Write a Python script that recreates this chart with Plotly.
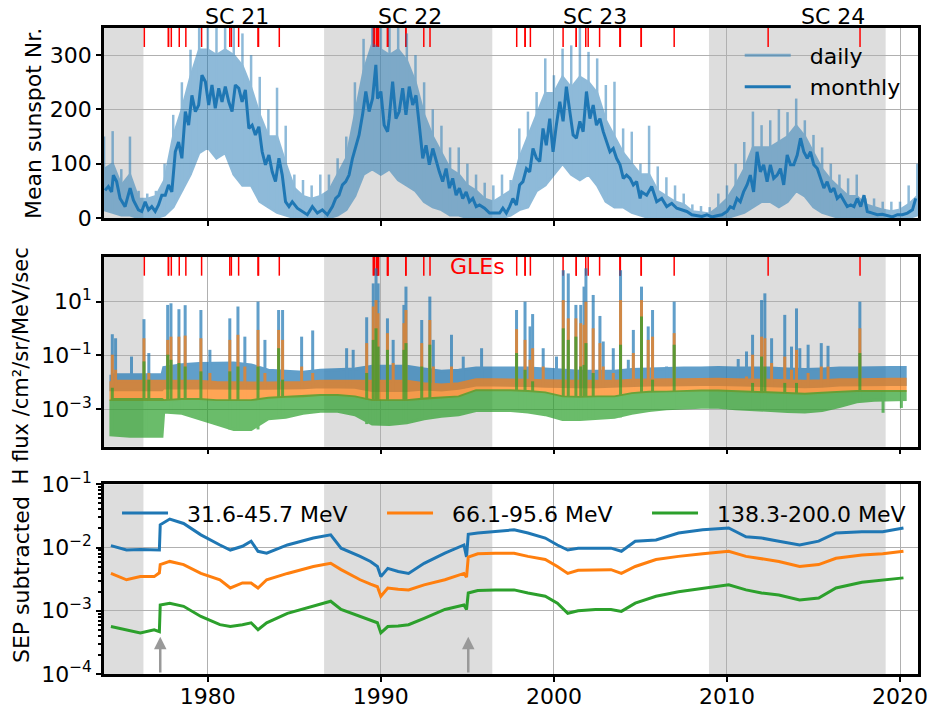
import plotly.graph_objects as go

# ---------------- data ----------------
# Sunspot panel: daily values summarised as half-year samples
band_years = [1974.0 + 0.5 * i for i in range(95)]
# highest daily values (spikes)
daily_hi = [150, 160, 90, 150, 50, 45, 50, 100, 190, 250,
            310, 380, 380, 380, 380, 380, 340, 300, 260, 200,
            240, 170, 80, 70, 60, 80, 80, 110, 150, 250,
            330, 380, 380, 380, 380, 340, 300, 250, 200, 170,
            130, 130, 100, 80, 65, 60, 80, 70, 165, 196,
            232, 294, 263, 312, 318, 380, 306, 294, 245, 251,
            165, 159, 100, 170, 95, 75, 60, 45, 25, 22,
            20, 45, 60, 100, 140, 196, 171, 180, 200, 195,
            220, 180, 153, 130, 100, 80, 73, 80, 36, 36,
            30, 30, 30, 60, 100]
# upper edge of the dense part of the daily band
daily_typ = [90, 100, 60, 80, 35, 35, 40, 70, 150, 200,
             260, 310, 310, 300, 310, 300, 280, 240, 190, 150,
             150, 100, 55, 40, 35, 40, 50, 80, 110, 190,
             270, 320, 310, 300, 310, 290, 250, 190, 150, 120,
             90, 80, 60, 50, 35, 30, 40, 50, 110, 150,
             190, 230, 230, 260, 240, 260, 250, 230, 180, 150,
             120, 100, 80, 80, 50, 40, 30, 25, 12, 10,
             8, 20, 35, 60, 90, 130, 130, 130, 140, 150,
             170, 150, 120, 90, 70, 55, 40, 40, 25, 20,
             15, 12, 15, 25, 40]
# lowest daily values
daily_lo = [15, 10, 5, 5, 0, 0, 0, 5, 20, 50,
            80, 120, 130, 110, 120, 80, 60, 60, 30, 20,
            10, 5, 0, 0, 0, 0, 0, 5, 15, 40,
            80, 90, 80, 90, 70, 60, 50, 30, 20, 15,
            5, 5, 0, 0, 0, 0, 0, 5, 15, 20,
            50, 60, 80, 100, 80, 70, 80, 60, 30, 20,
            20, 10, 5, 0, 0, 0, 0, 0, 0, 0,
            0, 0, 0, 5, 10, 20, 30, 30, 20, 30,
            50, 40, 20, 10, 5, 0, 0, 0, 0, 0,
            0, 0, 0, 0, 5]

monthly_years = [1974.06, 1974.25, 1974.44, 1974.54, 1974.73, 1974.93, 1975.22, 1975.51, 1975.70, 1975.99,
                 1976.18, 1976.38, 1976.57, 1976.76, 1976.96, 1977.15, 1977.34, 1977.54, 1977.73, 1977.92,
                 1978.12, 1978.31, 1978.50, 1978.70, 1978.89, 1979.08, 1979.28, 1979.47, 1979.66, 1979.86,
                 1980.05, 1980.24, 1980.43, 1980.63, 1980.82, 1981.01, 1981.21, 1981.40, 1981.59, 1981.79,
                 1981.98, 1982.17, 1982.37, 1982.56, 1982.75, 1982.95, 1983.14, 1983.33, 1983.53, 1983.72,
                 1983.91, 1984.11, 1984.30, 1984.49, 1984.69, 1984.88, 1985.17, 1985.46, 1985.75, 1986.04,
                 1986.33, 1986.62, 1986.91, 1987.20, 1987.39, 1987.58, 1987.78, 1987.97, 1988.16, 1988.36,
                 1988.55, 1988.74, 1988.94, 1989.13, 1989.32, 1989.52, 1989.71, 1989.81, 1990.00, 1990.19,
                 1990.39, 1990.48, 1990.68, 1990.87, 1991.06, 1991.26, 1991.45, 1991.64, 1991.84, 1992.03,
                 1992.22, 1992.42, 1992.61, 1992.80, 1993.00, 1993.19, 1993.38, 1993.57, 1993.77, 1993.96,
                 1994.15, 1994.35, 1994.54, 1994.73, 1994.93, 1995.12, 1995.31, 1995.51, 1995.70, 1995.99,
                 1996.28, 1996.57, 1996.86, 1997.05, 1997.25, 1997.44, 1997.63, 1997.83, 1998.02, 1998.21,
                 1998.41, 1998.60, 1998.79, 1998.99, 1999.18, 1999.37, 1999.56, 1999.76, 1999.95, 2000.14,
                 2000.34, 2000.53, 2000.72, 2000.92, 2001.11, 2001.30, 2001.50, 2001.69, 2001.88, 2002.08,
                 2002.27, 2002.46, 2002.66, 2002.85, 2003.04, 2003.24, 2003.43, 2003.62, 2003.82, 2004.01,
                 2004.20, 2004.40, 2004.59, 2004.78, 2004.98, 2005.07, 2005.36, 2005.65, 2005.94, 2006.23,
                 2006.52, 2006.81, 2007.10, 2007.39, 2007.68, 2007.97, 2008.26, 2008.55, 2008.84, 2009.13,
                 2009.42, 2009.71, 2010.00, 2010.19, 2010.38, 2010.58, 2010.77, 2010.96, 2011.16, 2011.35,
                 2011.54, 2011.74, 2011.93, 2012.12, 2012.32, 2012.51, 2012.70, 2012.90, 2013.09, 2013.28,
                 2013.48, 2013.67, 2013.86, 2014.06, 2014.25, 2014.44, 2014.64, 2014.83, 2015.02, 2015.22,
                 2015.41, 2015.60, 2015.79, 2015.99, 2016.18, 2016.37, 2016.57, 2016.76, 2016.95, 2017.15,
                 2017.34, 2017.53, 2017.73, 2017.92, 2018.11, 2018.40, 2018.69, 2018.98, 2019.27, 2019.56,
                 2019.85, 2020.14, 2020.43, 2020.72, 2020.91]
monthly_ssn = [51, 58, 48, 79, 67, 36, 21, 55, 33, 15,
               12, 30, 15, 21, 12, 24, 42, 42, 61, 48,
               122, 140, 110, 196, 171, 226, 196, 208, 263, 251,
               208, 245, 202, 239, 214, 242, 214, 196, 245, 239,
               214, 236, 165, 171, 153, 168, 122, 98, 116, 85,
               67, 110, 79, 30, 21, 30, 18, 12, 6, 21,
               9, 15, 6, 21, 36, 42, 61, 67, 79, 110,
               134, 153, 190, 233, 196, 220, 282, 220, 233, 171,
               159, 183, 251, 183, 196, 239, 190, 242, 208, 226,
               171, 110, 134, 98, 128, 104, 85, 67, 91, 55,
               73, 42, 55, 36, 48, 30, 36, 21, 24, 18,
               9, 9, 9, 18, 9, 21, 36, 24, 61, 67,
               91, 85, 128, 110, 104, 165, 134, 183, 122, 171,
               214, 178, 242, 196, 153, 147, 178, 159, 233, 183,
               208, 171, 183, 159, 140, 122, 128, 110, 98, 73,
               79, 73, 61, 67, 36, 48, 42, 58, 30, 36,
               21, 27, 18, 15, 12, 6, 4, 3, 6, 2,
               4, 6, 12, 21, 18, 36, 30, 48, 61, 79,
               48, 122, 85, 98, 67, 98, 73, 79, 91, 61,
               116, 98, 98, 116, 147, 122, 110, 122, 98, 91,
               73, 55, 67, 48, 55, 36, 42, 30, 21, 24,
               21, 36, 21, 42, 12, 9, 6, 7, 4, 2,
               6, 6, 9, 15, 36]

# Ground level enhancements (dates as decimal years)
gle_years = [1976.33, 1977.72, 1977.73, 1977.89, 1978.35, 1978.73, 1979.64, 1981.27, 1981.36, 1981.78,
             1982.90, 1982.93, 1984.13, 1989.56, 1989.62, 1989.74, 1989.80, 1989.81, 1989.81, 1989.87,
             1990.38, 1990.39, 1990.40, 1990.40, 1991.44, 1991.45, 1992.48, 1992.84, 1997.85, 1998.33,
             1998.34, 1998.64, 2000.53, 2001.29, 2001.29, 2001.84, 2001.98, 2002.64, 2003.82, 2003.83,
             2003.84, 2005.04, 2005.05, 2006.95, 2012.38, 2017.69]

shade_start = [1974.0, 1986.72, 2008.96]
shade_end = [1976.28, 1996.44, 2019.17]
cycle_names = ["SC 21", "SC 22", "SC 23", "SC 24"]
cycle_label_years = [1981.7, 1991.7, 2002.4, 2016.1]

# H flux panel (log10 values): quiet-time bands per channel
flux_years = [1974.4, 1975.5, 1976.5, 1977.35, 1977.45, 1978.5, 1979.5, 1980.5, 1981.5, 1982.5,
              1983.5, 1984.5, 1985.5, 1986.5, 1987.5, 1988.5, 1989.5, 1990.5, 1991.5, 1992.5,
              1993.5, 1994.5, 1995.5, 1996.5, 1997.5, 1998.5, 1999.5, 2000.5, 2001.5, 2002.5,
              2003.5, 2004.5, 2005.5, 2006.5, 2007.5, 2008.5, 2009.5, 2010.5, 2011.5, 2012.5,
              2013.5, 2014.5, 2015.5, 2016.5, 2017.5, 2018.5, 2019.5, 2020.3]
blue_hi_log = [-1.72, -1.72, -1.72, -1.72, -1.45, -1.34, -1.30, -1.28, -1.28, -1.35,
               -1.55, -1.59, -1.62, -1.55, -1.53, -1.50, -1.40, -1.40, -1.40, -1.50,
               -1.59, -1.55, -1.47, -1.47, -1.47, -1.47, -1.50, -1.55, -1.59, -1.59,
               -1.59, -1.52, -1.50, -1.47, -1.47, -1.47, -1.45, -1.47, -1.47, -1.47,
               -1.50, -1.52, -1.50, -1.47, -1.47, -1.45, -1.45, -1.45]
blue_lo_log = [-2.27, -2.27, -2.27, -2.27, -2.20, -2.20, -2.20, -2.22, -2.22, -2.22,
               -2.22, -2.22, -2.20, -2.16, -2.16, -2.18, -2.30, -2.30, -2.30, -2.25,
               -2.28, -2.22, -2.10, -2.10, -2.10, -2.12, -2.14, -2.16, -2.16, -2.16,
               -2.16, -2.12, -2.10, -2.10, -2.10, -2.08, -2.08, -2.10, -2.10, -2.12,
               -2.14, -2.16, -2.14, -2.10, -2.10, -2.08, -2.08, -2.08]
orange_hi_log = [-1.96, -1.96, -1.96, -1.96, -1.96, -1.96, -1.96, -2.00, -2.02, -2.02,
                 -2.02, -2.02, -2.00, -1.96, -1.96, -1.96, -1.96, -1.96, -1.96, -2.05,
                 -2.10, -2.05, -1.90, -1.90, -1.90, -1.92, -1.94, -1.96, -1.96, -1.96,
                 -1.96, -1.92, -1.90, -1.90, -1.90, -1.88, -1.88, -1.90, -1.90, -1.92,
                 -1.94, -1.96, -1.94, -1.90, -1.90, -1.88, -1.88, -1.88]
orange_lo_log = [-2.64, -2.64, -2.64, -2.64, -2.64, -2.60, -2.60, -2.64, -2.64, -2.64,
                 -2.55, -2.52, -2.50, -2.45, -2.45, -2.50, -2.64, -2.64, -2.64, -2.58,
                 -2.55, -2.50, -2.27, -2.27, -2.27, -2.30, -2.35, -2.50, -2.52, -2.50,
                 -2.50, -2.38, -2.33, -2.33, -2.30, -2.28, -2.28, -2.30, -2.33, -2.35,
                 -2.38, -2.40, -2.36, -2.33, -2.30, -2.30, -2.30, -2.30]
green_hi_log = [-2.64, -2.64, -2.64, -2.64, -2.68, -2.64, -2.64, -2.68, -2.68, -2.68,
                -2.59, -2.56, -2.54, -2.49, -2.49, -2.54, -2.68, -2.68, -2.68, -2.62,
                -2.59, -2.54, -2.31, -2.31, -2.31, -2.34, -2.39, -2.54, -2.56, -2.54,
                -2.54, -2.42, -2.37, -2.37, -2.34, -2.32, -2.32, -2.34, -2.37, -2.39,
                -2.42, -2.44, -2.40, -2.37, -2.34, -2.34, -2.34, -2.34]
green_lo_log = [-3.95, -4.00, -4.00, -4.00, -3.10, -3.15, -3.35, -3.55, -3.75, -3.75,
                -3.35, -3.30, -3.15, -3.07, -3.07, -3.20, -3.55, -3.57, -3.50, -3.35,
                -3.26, -3.20, -3.05, -3.05, -3.05, -3.10, -3.20, -3.38, -3.38, -3.35,
                -3.30, -3.15, -3.05, -2.98, -2.95, -2.92, -2.92, -2.98, -3.02, -3.05,
                -3.08, -3.10, -3.05, -2.90, -2.72, -2.66, -2.64, -2.64]

# SEP event peaks (log10 flux), None = no visible peak in that channel
spike_years = [1974.48, 1974.67, 1975.59, 1976.31, 1976.59, 1977.68, 1977.87, 1978.33, 1978.69, 1979.60,
               1980.12, 1981.27, 1981.74, 1982.14, 1982.90, 1983.30, 1984.09, 1984.32, 1985.42, 1986.06,
               1988.02, 1988.40, 1989.18, 1989.56, 1989.72, 1989.84, 1990.38, 1990.71, 1991.33, 1991.45,
               1992.36, 1992.83, 1993.03, 1994.08, 1994.76, 1995.82, 1997.84, 1998.33, 1998.62, 1998.77,
               1999.38, 2000.15, 2000.54, 2000.83, 2001.27, 2001.55, 2001.74, 2001.85, 2002.27, 2002.66,
               2002.85, 2003.43, 2003.85, 2004.30, 2004.59, 2005.06, 2005.45, 2005.70, 2006.51, 2006.95,
               2010.65, 2011.13, 2011.48, 2012.00, 2012.19, 2012.58, 2013.34, 2013.73, 2014.02, 2014.21,
               2014.69, 2015.45, 2015.84, 2017.68, 2019.02, 2020.08]
spike_blue_log = [-0.21, -0.36, -1.04, 0.35, -0.91, 0.88, 0.94, 0.72, 0.87, 0.69,
                  -0.79, 0.38, 0.82, -0.30, 1.00, -0.42, 0.69, 0.69, -0.30, -0.07,
                  -0.73, -0.79, 0.42, 1.68, 2.24, 1.68, 0.38, -0.42, 0.88, 1.56,
                  0.32, 1.19, -0.42, -0.23, -1.04, -0.73, 0.69, 1.00, 0.08, 0.54,
                  -0.73, -1.04, 2.17, 2.05, 0.88, 0.88, 1.56, 2.24, 1.25, 0.47,
                  -0.48, -0.73, 2.17, -1.16, -0.05, 1.56, 0.08, 0.69, -1.41, 1.00,
                  -1.13, -0.85, -0.23, 1.06, 1.31, -0.36, 0.51, -0.67, 0.75, -0.73,
                  -0.60, -0.54, -0.64, 1.00, None, None]
spike_orange_log = [-0.97, -1.53, None, -0.36, -1.65, -0.42, -0.30, -0.30, -0.26, -0.36,
                    -1.65, -0.42, -0.23, -1.41, -0.05, -1.65, -0.05, -0.42, -1.41, -1.65,
                    None, None, -0.54, 0.82, 1.06, 0.57, -0.17, -1.28, 0.20, 0.69,
                    -0.54, 0.32, -1.41, -1.41, None, None, -0.02, -0.42, -1.16, -0.73,
                    -1.41, None, 1.06, 0.38, 0.38, 0.20, 0.14, 1.00, 0.01, -0.54,
                    -1.41, -1.65, 1.06, None, -0.91, 1.06, -0.42, -0.30, None, -0.17,
                    None, -1.78, -0.97, -0.30, -0.36, -1.28, -1.04, -1.53, -0.79, None,
                    -1.65, -1.41, -1.41, 0.01, None, None]
spike_green_log = [-2.20, None, None, -1.22, -1.90, -0.97, -1.16, -1.28, -1.41, -1.59,
                   None, -1.59, -1.41, None, -1.41, None, -0.73, -1.90, None, None,
                   None, None, -1.65, -0.42, 0.01, -0.67, -0.79, None, -0.79, -0.54,
                   -1.41, -0.60, None, None, None, None, -0.91, -1.53, None, -1.96,
                   None, None, 0.01, -0.42, -0.30, -1.41, -1.35, -0.54, -1.65, None,
                   None, None, -0.60, None, None, 0.45, None, -1.90, None, -0.60,
                   None, None, -2.02, -1.04, -1.41, None, -2.02, None, -2.02, None,
                   None, None, None, -0.91, -3.13, -2.95]

# SEP-subtracted panel (log10 flux)
sep_years = [1974.4, 1975.3, 1976.1, 1976.9, 1977.2, 1977.25, 1977.8, 1978.6, 1979.6, 1980.7,
             1981.3, 1982.0, 1982.5, 1982.9, 1983.4, 1984.6, 1986.1, 1987.1, 1987.7, 1988.8,
             1989.4, 1989.8, 1990.0, 1990.4, 1991.0, 1991.6, 1992.5, 1993.7, 1994.8, 1994.95,
             1995.05, 1995.6, 1996.6, 1997.7, 1998.5, 1999.5, 2000.2, 2000.8, 2001.4, 2002.4,
             2003.3, 2003.9, 2004.7, 2005.9, 2007.2, 2008.6, 2010.1, 2011.1, 2012.0, 2013.0,
             2014.2, 2015.3, 2016.3, 2017.8, 2019.0, 2020.2]
sep_blue_log = [-1.97, -2.04, -2.03, -2.04, -2.04, -1.64, -1.55, -1.62, -1.80, -1.96,
                -2.04, -1.98, -1.90, -2.06, -2.09, -1.96, -1.85, -1.80, -2.01, -2.14,
                -2.22, -2.30, -2.46, -2.33, -2.38, -2.41, -2.25, -2.09, -1.96, -2.15,
                -1.79, -1.77, -1.75, -1.72, -1.77, -1.85, -1.96, -2.04, -2.01, -2.01,
                -2.01, -2.06, -1.90, -1.88, -1.77, -1.72, -1.69, -1.83, -1.85, -1.90,
                -1.96, -1.90, -1.77, -1.75, -1.75, -1.69]
sep_orange_log = [-2.41, -2.51, -2.46, -2.46, -2.40, -2.27, -2.22, -2.27, -2.41, -2.51,
                  -2.64, -2.56, -2.56, -2.64, -2.51, -2.41, -2.30, -2.25, -2.35, -2.51,
                  -2.58, -2.62, -2.77, -2.64, -2.66, -2.67, -2.59, -2.51, -2.41, -2.47,
                  -2.15, -2.10, -2.09, -2.09, -2.14, -2.19, -2.30, -2.41, -2.36, -2.35,
                  -2.35, -2.41, -2.30, -2.19, -2.14, -2.10, -2.06, -2.14, -2.18, -2.22,
                  -2.30, -2.27, -2.17, -2.12, -2.10, -2.06]
sep_green_log = [-3.25, -3.30, -3.35, -3.30, -3.33, -2.91, -2.88, -2.93, -3.09, -3.22,
                 -3.25, -3.22, -3.19, -3.30, -3.19, -3.04, -2.93, -2.85, -2.98, -3.09,
                 -3.15, -3.19, -3.35, -3.25, -3.24, -3.22, -3.12, -2.98, -2.91, -2.98,
                 -2.72, -2.68, -2.67, -2.67, -2.72, -2.77, -2.88, -3.04, -3.00, -2.98,
                 -2.98, -3.01, -2.88, -2.77, -2.70, -2.65, -2.59, -2.67, -2.72, -2.75,
                 -2.83, -2.80, -2.64, -2.55, -2.52, -2.48]
channel_names = ["31.6-45.7 MeV", "66.1-95.6 MeV", "138.3-200.0 MeV"]
arrow_years = [1977.25, 1995.05]

# ---------------- figure ----------------
C0, C1, C2 = "#1f77b4", "#ff7f0e", "#2ca02c"
FONT = "DejaVu Sans"
FS = 22
GAP = "\u00a0\u00a0"

fig = go.Figure()

# daily sunspot: dense band + spikes, one trace so the opacity does not stack
dx = band_years + band_years[::-1] + [band_years[0]]
dy = daily_typ + daily_lo[::-1] + [daily_typ[0]]
for t, lo, hi in zip(band_years, daily_lo, daily_hi):
    dx += [None, t, t]
    dy += [None, lo, hi]
fig.add_trace(go.Scatter(
    x=dx, y=dy, mode="lines", fill="toself", fillcolor=C0,
    line=dict(color=C0, width=2.5), opacity=0.5, showlegend=False,
    hoverinfo="skip", xaxis="x", yaxis="y"))
fig.add_trace(go.Scatter(x=[None], y=[None], mode="lines", name=GAP + "daily",
                         line=dict(color=C0, width=3), opacity=0.5,
                         legend="legend", xaxis="x", yaxis="y"))
fig.add_trace(go.Scatter(x=monthly_years, y=monthly_ssn, mode="lines",
                         name=GAP + "monthly", line=dict(color=C0, width=3),
                         legend="legend", xaxis="x", yaxis="y"))


def channel_xy(hi, lo, peaks):
    xs = flux_years + flux_years[::-1] + [flux_years[0]]
    ys = [10 ** v for v in hi] + [10 ** v for v in lo[::-1]] + [10 ** hi[0]]
    for t, p in zip(spike_years, peaks):
        if p is None:
            continue
        i = min(range(len(flux_years)), key=lambda k: abs(flux_years[k] - t))
        base = lo[i] if p > lo[i] else hi[i]
        xs += [None, t, t]
        ys += [None, 10 ** base, 10 ** p]
    return xs, ys


for hi, lo, pk, col in [(blue_hi_log, blue_lo_log, spike_blue_log, C0),
                        (orange_hi_log, orange_lo_log, spike_orange_log, C1),
                        (green_hi_log, green_lo_log, spike_green_log, C2)]:
    xs, ys = channel_xy(hi, lo, pk)
    fig.add_trace(go.Scatter(x=xs, y=ys, mode="lines", fill="toself", fillcolor=col,
                             line=dict(color=col, width=3), opacity=0.7,
                             showlegend=False, hoverinfo="skip",
                             xaxis="x2", yaxis="y2"))

for vals, col, name in [(sep_blue_log, C0, channel_names[0]),
                        (sep_orange_log, C1, channel_names[1]),
                        (sep_green_log, C2, channel_names[2])]:
    fig.add_trace(go.Scatter(x=sep_years, y=[10 ** v for v in vals], mode="lines",
                             name=GAP + name, line=dict(color=col, width=3),
                             legend="legend2", xaxis="x3", yaxis="y3"))

# shapes: minimum shading and GLE markers
shapes = []
for xr, yr in [("x", "y domain"), ("x2", "y2 domain"), ("x3", "y3 domain")]:
    for s, e in zip(shade_start, shade_end):
        shapes.append(dict(type="rect", xref=xr, yref=yr, x0=s, x1=e, y0=0, y1=1,
                           fillcolor="#dddddd", line=dict(width=0), layer="below"))
for xr, yr in [("x", "y domain"), ("x2", "y2 domain")]:
    for g in gle_years:
        shapes.append(dict(type="line", xref=xr, yref=yr, x0=g, x1=g, y0=0.9, y1=1.0,
                           line=dict(color="red", width=1.5), layer="below"))

annotations = []
for name, yr in zip(cycle_names, cycle_label_years):
    annotations.append(dict(text=name, x=yr, xref="x", y=1 + 12 / 646, yref="paper",
                            showarrow=False, yanchor="middle", xanchor="center",
                            font=dict(size=FS, color="black")))
annotations.append(dict(text="GLEs", x=1995.6, xref="x2", y=2.3, yref="y2",
                        showarrow=False, xanchor="center", yanchor="middle",
                        font=dict(size=FS, color="red")))
for txt, xp, yp, fs in [("Mean sunspot Nr.", -0.086, 0.853, FS),
                        ("H flux /cm²/sr/MeV/sec", -0.102, 0.4776, 21),
                        ("SEP subtracted", -0.102, 0.147, FS)]:
    annotations.append(dict(text=txt, x=xp, y=yp, xref="paper", yref="paper",
                            textangle=-90, showarrow=False, xanchor="center",
                            yanchor="middle", font=dict(size=fs, color="black")))
for ay in arrow_years:
    annotations.append(dict(x=ay, y=-3.41, xref="x3", yref="y3", ax=ay, ay=-4.0,
                            axref="x3", ayref="y3", text="", showarrow=True,
                            arrowhead=2, arrowsize=1, arrowwidth=2.5,
                            arrowcolor="#999999"))

axis_common = dict(ticks="outside", ticklen=5, tickwidth=1.5, tickcolor="black",
                   showline=True, mirror=True, linecolor="black", linewidth=2.5,
                   showgrid=True, gridcolor="#b0b0b0", gridwidth=1, zeroline=False,
                   automargin=False, tickfont=dict(size=FS, color="black"))
x_common = dict(axis_common, range=[1974, 2021.04],
                tickvals=[1980, 1990, 2000, 2010, 2020])

fig.update_layout(
    template="none",
    width=931, height=710,
    margin=dict(l=104, r=13, t=28, b=36, autoexpand=False),
    paper_bgcolor="white", plot_bgcolor="white",
    font=dict(family=FONT, size=FS, color="black"),
    xaxis=dict(x_common, domain=[0, 1], anchor="y", showticklabels=False),
    xaxis2=dict(x_common, domain=[0, 1], anchor="y2", showticklabels=False),
    xaxis3=dict(x_common, domain=[0, 1], anchor="y3", ticklabelstandoff=-4),
    yaxis=dict(axis_common, domain=[0.7059, 1.0], range=[0, 350],
               tickvals=[0, 100, 200, 300]),
    yaxis2=dict(axis_common, domain=[0.3519, 0.6460], type="log",
                range=[-4.39, 2.673], tickvals=[1e-3, 1e-1, 1e1],
                ticktext=["10<sup>−3</sup>", "10<sup>−1</sup>", "10<sup>1</sup>"]),
    yaxis3=dict(axis_common, domain=[0, 0.2937], type="log", range=[-4, -1],
                tickvals=[1e-4, 1e-3, 1e-2, 1e-1],
                ticktext=["10<sup>−4</sup>", "10<sup>−3</sup>", "10<sup>−2</sup>",
                          "10<sup>−1</sup>"],
                minor=dict(ticks="outside", ticklen=3, tickcolor="black",
                           dtick="D1", showgrid=False)),
    legend=dict(x=0.781, y=0.990, xanchor="left", yanchor="top",
                bgcolor="rgba(0,0,0,0)", font=dict(size=FS), itemwidth=46,
                tracegroupgap=0),
    legend2=dict(orientation="h", x=0.016, y=0.249, xanchor="left",
                 yanchor="middle", bgcolor="rgba(0,0,0,0)", font=dict(size=FS),
                 entrywidth=204, entrywidthmode="pixels", itemwidth=46),
    shapes=shapes,
    annotations=annotations,
    showlegend=True,
)

fig.write_html("out.html",
               config={"displayModeBar": False},
               post_script="document.body.style.margin='0px';"
                           "document.body.style.overflow='hidden';")
